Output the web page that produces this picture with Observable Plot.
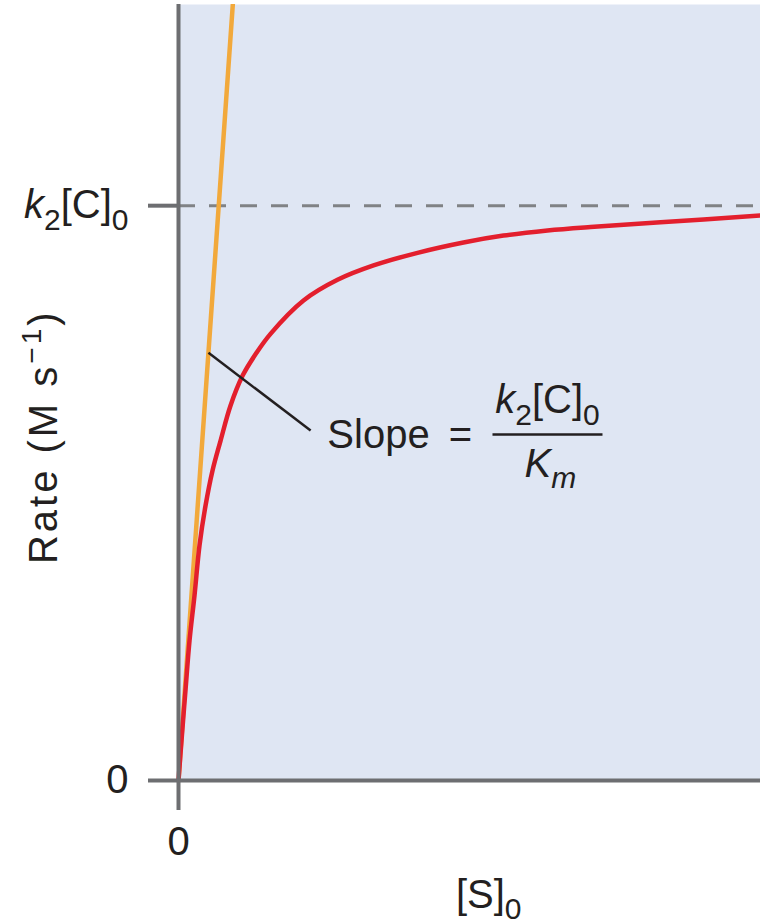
<!DOCTYPE html>
<html><head><meta charset="utf-8">
<script src="https://cdn.jsdelivr.net/npm/d3@7"></script>
<script src="https://cdn.jsdelivr.net/npm/@observablehq/plot@0.6"></script>
<style>
body{margin:0;background:#fff;}
#chart svg{display:block;}
</style>
</head><body><div id="chart"></div>
<script>
// ---- data ----
const substrate = [0, 0.052, 0.120, 0.189, 0.275, 0.361, 0.464, 0.584, 0.722, 0.893, 1.100, 1.340, 1.581, 2.148, 2.732, 3.351, 4.107, 4.897, 5.584, 6.340, 7.079, 8.282, 10.0];
const rate      = [0, 0.070, 0.157, 0.243, 0.322, 0.409, 0.478, 0.539, 0.591, 0.652, 0.704, 0.744, 0.777, 0.835, 0.871, 0.896, 0.918, 0.936, 0.948, 0.957, 0.963, 0.971, 0.983];
const tangentS = [0, 0.94];
const tangentV = [0, 1.36];
const vmax = [1];
const yTickValues = [0, 1];
const yTickLabels = ["0", "*k*_{2}[C]_{0}"];
const xTickValues = [0];
const xTickLabels = ["0"];
const yLabel = "Rate (M s^{−1})";
const xLabel = "[S]_{0}";
const yLabelPos = [-2.30, 0.598];
const xLabelPos = [5.33, -0.200];
const annoText = ["Slope", "=", "*k*_{2}[C]_{0}", "*K*_{*m*}"];
const annoS = [3.436, 4.845, 6.34, 6.39];
const annoV = [0.600, 0.600, 0.661, 0.550];
const leaderS = [0.515, 2.27];
const leaderV = [0.744, 0.609];
const fracBarS = [5.395, 7.285];
const fracBarV = [0.602, 0.602];

// ---- styles ----
const FONT = "'Liberation Sans', Arial, Helvetica, sans-serif";
const INK = "#231f20";
const AXIS = "#6d6e71";

const curve = substrate.map((s, i) => ({s, v: rate[i]}));
const tangent = tangentS.map((s, i) => ({s, v: tangentV[i]}));

const chart = Plot.plot({
  width: 760, height: 924,
  marginLeft: 178, marginRight: 0, marginTop: 4, marginBottom: 144,
  x: {domain: [0, 10]},
  y: {domain: [0, 1.35]},
  style: {fontFamily: FONT, fontSize: "40px", color: INK, background: "transparent", overflow: "visible"},
  marks: [
    Plot.frame({fill: "#dfe6f3", stroke: null}),
    Plot.ruleY(vmax, {stroke: "#808285", strokeWidth: 3, strokeDasharray: "17,14"}),
    Plot.line(tangent, {x: "s", y: "v", stroke: "#f2a93b", strokeWidth: 4.5, clip: true}),
    Plot.line(curve, {x: "s", y: "v", stroke: "#e31f2d", strokeWidth: 4.5, curve: "catmull-rom"}),
    Plot.link([0], {x1: [leaderS[0]], y1: [leaderV[0]], x2: [leaderS[1]], y2: [leaderV[1]], stroke: INK, strokeWidth: 2.5}),
    Plot.link([0], {x1: [fracBarS[0]], y1: [fracBarV[0]], x2: [fracBarS[1]], y2: [fracBarV[1]], stroke: INK, strokeWidth: 2.5}),
    Plot.text(annoText, {x: annoS, y: annoV, text: annoText, fill: INK, fontSize: 40, textAnchor: "middle"}),
    Plot.text([0], {x: [yLabelPos[0]], y: [yLabelPos[1]], text: [yLabel], rotate: -90, fill: INK, fontSize: 40, textAnchor: "middle", clip: false}),
    Plot.text([0], {x: [xLabelPos[0]], y: [xLabelPos[1]], text: [xLabel], fill: INK, fontSize: 40, textAnchor: "middle", clip: false}),
    Plot.axisY({ticks: yTickValues, tickFormat: d => yTickLabels[yTickValues.indexOf(d)], tickSize: 30, tickPadding: 20, stroke: AXIS, strokeWidth: 4, fill: INK, fontSize: 40, label: null}),
    Plot.axisX({ticks: xTickValues, tickFormat: d => xTickLabels[xTickValues.indexOf(d)], tickSize: 30, tickPadding: 16, stroke: AXIS, strokeWidth: 4, fill: INK, fontSize: 40, label: null}),
    Plot.ruleX([0], {stroke: AXIS, strokeWidth: 4}),
    Plot.ruleY([0], {stroke: AXIS, strokeWidth: 4})
  ]
});
document.getElementById("chart").appendChild(chart);

// ---- rich text: italics, subscripts, superscripts ----
function richify(svg) {
  d3.select(svg).selectAll("text").each(function() {
    const el = this;
    const s = el.textContent;
    if (s.startsWith("Rate")) el.style.letterSpacing = "3px";
    if (!/[_^*]/.test(s)) return;
    const fs = parseFloat(getComputedStyle(el).fontSize) || 40;
    const parts = s.split(/(_\{[^}]*\}|\^\{[^}]*\})/).filter(p => p.length);
    while (el.firstChild) el.removeChild(el.firstChild);
    let cur = 0;
    for (const p of parts) {
      let content = p, shift = 0, size = fs;
      if (p.startsWith("_{")) { content = p.slice(2, -1); shift = 0.28 * fs; size = 0.75 * fs; }
      else if (p.startsWith("^{")) { content = p.slice(2, -1); shift = -0.4 * fs; size = 0.7 * fs; }
      const pieces = content.split("*");
      let first = true;
      pieces.forEach((piece, k) => {
        if (!piece.length) return;
        const t = document.createElementNS("http://www.w3.org/2000/svg", "tspan");
        t.textContent = piece;
        t.setAttribute("font-size", size);
        if (k % 2 === 1) t.setAttribute("font-style", "italic");
        if (first) { t.setAttribute("dy", shift - cur); cur = shift; first = false; }
        el.appendChild(t);
      });
    }
  });
}
richify(chart);
</script>
</body></html>
